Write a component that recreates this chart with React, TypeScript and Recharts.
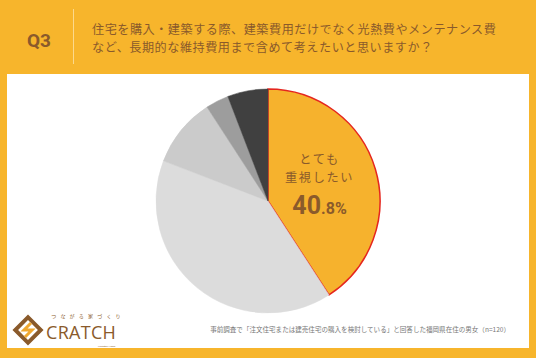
import React from "react";
import { PieChart, Pie, Cell } from "recharts";

const labels = ["とても重視したい", "ある程度重視したい", "どちらともいえない", "あまり重視しない", "全く重視しない"];
const counts = [49, 48, 12, 4, 7];
const colors = ["#F6B22D", "#DCDCDC", "#CBCBCB", "#9D9D9D", "#404040"];

const data = labels.map((name, i) => ({ name, value: counts[i] }));
const total = counts.reduce((a, b) => a + b, 0);

const BROWN = "#8A5A2B";
const RAD = Math.PI / 180;

const renderLabel = (props: any) => {
  const { cx, cy, midAngle, outerRadius, index } = props;
  if (index !== 0) return null;
  const r = outerRadius * 0.48;
  const x = cx + r * Math.cos(-midAngle * RAD);
  const y = cy + r * Math.sin(-midAngle * RAD);
  const pct = ((counts[0] / total) * 100).toFixed(1).split(".");
  return (
    <g fill={BROWN} textAnchor="middle">
      <text x={x} y={y - 22} fontSize={12.2} fontFamily="'Noto Sans CJK JP'" letterSpacing={1.6}>
        とても
      </text>
      <text x={x} y={y - 4} fontSize={12.2} fontFamily="'Noto Sans CJK JP'" letterSpacing={1.6}>
        重視したい
      </text>
      <text x={x} y={y + 28} fontFamily="Roboto, sans-serif" fontWeight={700}>
        <tspan fontSize={25}>{pct[0]}</tspan>
        <tspan fontSize={16}>.{pct[1]}%</tspan>
      </text>
    </g>
  );
};

const Logo = () => (
  <svg width={130} height={45} style={{ position: "absolute", left: 8, top: 308 }}>
    <g transform="translate(20,22) rotate(45)">
      <rect x={-9} y={-9} width={18} height={18} fill="none" stroke={BROWN} strokeWidth={4} />
    </g>
    <path d="M23 15 L16 22 L24 22 L17 29" fill="none" stroke="#F0A830" strokeWidth={3} />
    <text x={80} y={10} fontSize={5} fill={BROWN} textAnchor="middle" letterSpacing={4.2}
      fontFamily="'Noto Sans CJK JP'">
      つながる家づくり
    </text>
    <text x={38} y={31} fontSize={18} fill={BROWN} fontWeight={500} fontFamily="'Open Sans', sans-serif"
      letterSpacing={0.3}>
      CRATCH
    </text>
    <text x={90} y={39} fontSize={2.5} fill={BROWN} fontFamily="Roboto">
      Komatsu Home
    </text>
  </svg>
);

const headText: React.CSSProperties = {
  position: "absolute",
  left: 92,
  fontSize: 12.1,
  color: BROWN,
  fontFamily: "'Noto Sans CJK JP'",
  lineHeight: "14px",
  letterSpacing: 0.55,
  whiteSpace: "nowrap",
};

export default function App() {
  return (
    <div
      style={{
        position: "fixed",
        left: 0,
        top: 0,
        width: 536,
        height: 358,
        background: "#F7B52C",
        overflow: "hidden",
      }}
    >
      <div
        style={{
          position: "absolute",
          left: 27,
          top: 29,
          fontSize: 19,
          fontWeight: 700,
          color: BROWN,
          fontFamily: "Roboto, sans-serif",
          lineHeight: "24px",
        }}
      >
        Q3
      </div>
      <div style={{ position: "absolute", left: 73, top: 9, width: 1, height: 55, background: "#FCD98C" }} />
      <div style={{ ...headText, top: 22 }}>
        住宅を購入・建築する際、建築費用だけでなく光熱費やメンテナンス費
      </div>
      <div style={{ ...headText, top: 39.7 }}>
        など、長期的な維持費用まで含めて考えたいと思いますか？
      </div>
      <div
        style={{
          position: "absolute",
          left: 7,
          top: 74,
          width: 522,
          height: 274,
          background: "#FFFFFF",
        }}
      />
      <div style={{ position: "absolute", left: 0, top: 0 }}>
        <PieChart width={536} height={358} margin={{ top: 0, right: 0, bottom: 0, left: 0 }}>
          <Pie
            data={data}
            dataKey="value"
            nameKey="name"
            cx={268}
            cy={201}
            outerRadius={112}
            startAngle={90}
            endAngle={-270}
            label={renderLabel}
            labelLine={false}
            isAnimationActive={false}
          >
            {data.map((d, i) => (
              <Cell
                key={d.name}
                fill={colors[i]}
                stroke={i === 0 ? "#E5261E" : colors[i]}
                strokeWidth={i === 0 ? 1.5 : 0.5}
              />
            ))}
          </Pie>
        </PieChart>
      </div>
      <Logo />
      <div
        style={{
          position: "absolute",
          right: 26,
          top: 324,
          fontSize: 6.55,
          color: "#777777",
          fontFamily: "'Noto Sans CJK JP'",
          whiteSpace: "nowrap",
          lineHeight: "10px",
        }}
      >
        事前調査で「注文住宅または建売住宅の購入を検討している」と回答した福岡県在住の男女（n=120）
      </div>
    </div>
  );
}
